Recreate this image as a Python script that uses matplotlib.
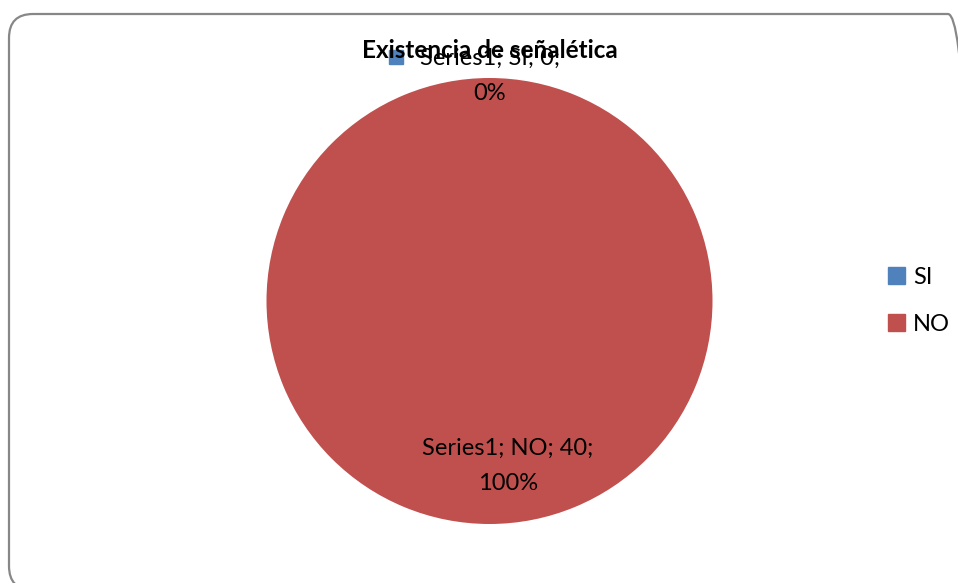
import numpy as np
import matplotlib
matplotlib.use("Agg")
import matplotlib.pyplot as plt
from matplotlib.patches import FancyBboxPatch, Patch, Rectangle

# Survey answers
categories = ["SI", "NO"]
counts = [0, 40]
series_name = "Series1"
title = "Existencia de señalética"
colors = ["#4F81BD", "#C0504D"]

W, H = 958, 583
plt.rcParams['font.family'] = ['Lato', 'DejaVu Sans']

fig = plt.figure(figsize=(W / 100, H / 100), dpi=100)

# background axes in pixel units for the rounded chart frame
bg = fig.add_axes([0, 0, 1, 1])
bg.set_xlim(0, W)
bg.set_ylim(0, H)
bg.axis("off")
bg.add_patch(FancyBboxPatch((9, H - 590), 963, 576,
                            boxstyle="round,pad=0,rounding_size=24",
                            fill=False, edgecolor="#878787", linewidth=1.6,
                            clip_on=False))

# pie axes, square in pixels
cx, cy, r = 489.5, 301, 223
ax = fig.add_axes([(cx - r) / W, (H - cy - r) / H, 2 * r / W, 2 * r / H])
ax.pie(counts, colors=colors, startangle=90, counterclock=False, radius=1,
       wedgeprops=dict(linewidth=0))
ax.set_xlim(-1, 1)
ax.set_ylim(-1, 1)
ax.set_aspect("auto")
ax.axis("off")

total = sum(counts)
pct = [round(100 * c / total) for c in counts]

fig.text(cx / W, 1 - 50 / H, title, ha="center", va="center",
         fontsize=17.5, fontweight="bold")

# data labels
lbl_si = f"{series_name}; {categories[0]}; {counts[0]};\n{pct[0]}%"
fig.text(490 / W, 1 - 76 / H, lbl_si, ha="center", va="center",
         fontsize=17, linespacing=1.8)
fig.patches.append(Rectangle((389 / W, 1 - 64 / H), 14 / W, 14 / H,
                             transform=fig.transFigure, color=colors[0]))

lbl_no = f"{series_name}; {categories[1]}; {counts[1]};\n{pct[1]}%"
fig.text(508 / W, 1 - 466 / H, lbl_no, ha="center", va="center",
         fontsize=17, linespacing=1.8)

handles = [Patch(color=c) for c in colors]
fig.legend(handles, categories, loc="center left",
           bbox_to_anchor=(879 / W, 1 - 301 / H), frameon=False,
           fontsize=17, handlelength=0.7, handleheight=0.7,
           handletextpad=0.35, labelspacing=1.1, borderaxespad=0)

fig.savefig("out.png", dpi=100)
